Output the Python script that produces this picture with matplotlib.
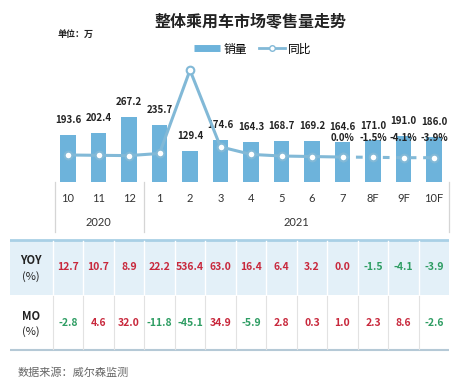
import matplotlib
matplotlib.use("Agg")
import matplotlib.pyplot as plt
from matplotlib.lines import Line2D
from matplotlib.patches import Rectangle
import matplotlib.transforms as mtransforms

plt.rcParams['font.family'] = ['Noto Sans CJK SC', 'DejaVu Sans']

months = ['10', '11', '12', '1', '2', '3', '4', '5', '6', '7', '8F', '9F', '10F']
years = ['2020', '2021']
year_span = [(0, 2), (3, 12)]
sales = [193.6, 202.4, 267.2, 235.7, 129.4, 174.6, 164.3, 168.7, 169.2, 164.6, 171.0, 191.0, 186.0]
yoy = [12.7, 10.7, 8.9, 22.2, 536.4, 63.0, 16.4, 6.4, 3.2, 0.0, -1.5, -4.1, -3.9]
mom = [-2.8, 4.6, 32.0, -11.8, -45.1, 34.9, -5.9, 2.8, 0.3, 1.0, 2.3, 8.6, -2.6]
first_forecast = 9  # line turns dashed from month 7 on

bar_col = '#6DB3DB'
line_col = '#82B9D7'
red = '#C8283C'
green = '#2E9D63'

W, H = 466, 392
fig = plt.figure(figsize=(W / 100, H / 100), dpi=100)

def px(x0, y0, x1, y1):
    return [x0 / W, 1 - y1 / H, (x1 - x0) / W, (y1 - y0) / H]

x = list(range(len(months)))

ax = fig.add_axes(px(52.75, 60, 449.25, 182))
ax.bar(x, sales, width=0.5, color=bar_col, zorder=1)
ax.set_xlim(-0.5, len(months) - 0.5)
ax.set_ylim(0, 502)
ax.axis('off')
for i, v in enumerate(sales):
    ax.annotate(f'{v:.1f}', (i, v), xytext=(0, 10.5), textcoords='offset points',
                ha='center', va='center', fontsize=7, fontweight='bold', color='#222222')

ax2 = ax.twinx()
ax2.set_ylim(-154, 599)
ax2.axis('off')
ax2.plot(x[:first_forecast + 1], yoy[:first_forecast + 1], color=line_col, lw=2.2,
         marker='o', ms=5.5, mfc='white', mec=line_col, mew=1.5, zorder=3)
ax2.plot(x[first_forecast:], yoy[first_forecast:], color=line_col, lw=2.2, ls=(0, (2.2, 2.2)),
         marker='o', ms=5.5, mfc='white', mec=line_col, mew=1.5, zorder=3)
for i in range(first_forecast, len(months)):
    ax2.annotate(f'{yoy[i]:.1f}%', (i, yoy[i]), xytext=(0, 14), textcoords='offset points',
                 ha='center', va='center', fontsize=7, fontweight='bold', color='#222222')

# category axis box
tr = mtransforms.blended_transform_factory(ax.transData, ax.transAxes)
for xv in [-0.43, 2.5, 12.49]:
    ax.add_line(Line2D([xv, xv], [0, -0.41], transform=tr, color='#D5D5D5', lw=0.9, clip_on=False))
for i, m in enumerate(months):
    ax.text(i, -17 / 122, m, transform=tr, ha='center', va='center', fontsize=8, color='#333333',
            family=['Lato', 'DejaVu Sans'])
for yname, (a, b) in zip(years, year_span):
    ax.text((a + b) / 2, -40 / 122, yname, transform=tr, ha='center', va='center', fontsize=8,
            color='#333333', family=['Lato', 'DejaVu Sans'])

# table
tab = fig.add_axes(px(10, 238, 449.25, 352))
tab.set_xlim(-1.9016, len(months) - 0.5)
tab.set_ylim(2.03, -0.03)
tab.axis('off')
tab.add_patch(Rectangle((-1.9016, 0), len(months) - 0.5 + 1.9016, 1, color='#E3F0F8', lw=0))
tab.plot([-1.9016, len(months) - 0.5], [0, 0], color='#A9D0E6', lw=2)
tab.plot([-1.9016, len(months) - 0.5], [2, 2], color='#B5C9D6', lw=1.5)
for b in range(len(months)):
    xb = b - 0.5
    tab.plot([xb, xb], [0.02, 0.98], color='white', lw=1)
    tab.plot([xb, xb], [1.02, 1.98], color='#E2E2E2', lw=0.8)
rows = [('YOY', yoy), ('MO', mom)]
for r, (name, vals) in enumerate(rows):
    tab.text(-1.213, r + 0.38, name, ha='center', va='center', fontsize=8, fontweight='bold', color='#222222')
    tab.text(-1.213, r + 0.66, '(%)', ha='center', va='center', fontsize=8, color='#222222')
    for i, v in enumerate(vals):
        tab.text(i, r + 0.5, f'{v:.1f}', ha='center', va='center', fontsize=7.5, fontweight='bold',
                 color=green if v < 0 else red)

fig.text(251 / W, 1 - 21 / H, '整体乘用车市场零售量走势', ha='center', va='center',
         fontsize=11.5, fontweight='bold', color='#222222')
fig.text(58 / W, 1 - 34 / H, '单位：万', ha='left', va='center', fontsize=6.5, fontweight='bold', color='#222222')
fig.text(18 / W, 1 - 373 / H, '数据来源：威尔森监测', ha='left', va='center', fontsize=8, color='#666666')

handles = [Line2D([], [], color=bar_col, lw=5, solid_capstyle='butt'),
           Line2D([], [], color=line_col, lw=2, marker='o', ms=4, mfc='white', mec=line_col)]
fig.legend(handles, ['销量', '同比'], loc='center', bbox_to_anchor=(253 / W, 1 - 49 / H), ncol=2,
           frameon=False, fontsize=8.5, handlelength=2.2, handletextpad=0.3, columnspacing=1.0)

fig.savefig('out.png', dpi=100)
